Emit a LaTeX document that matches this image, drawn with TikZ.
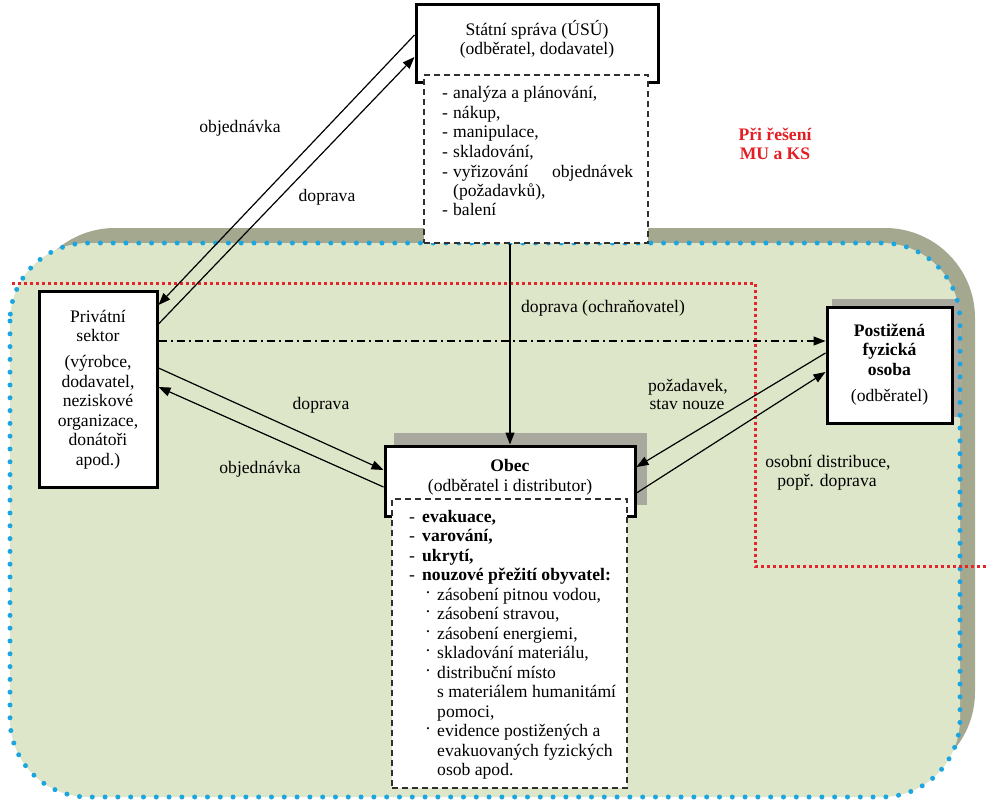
\documentclass[tikz,border=0pt]{standalone}
\usepackage{fontspec}
\setmainfont{Liberation Serif}
\usetikzlibrary{arrows.meta}
\definecolor{bgGrey}{HTML}{A4A88E}
\definecolor{bgGreen}{HTML}{DDE6C8}
\definecolor{shadowGrey}{HTML}{A8A89E}
\definecolor{blueDot}{HTML}{1CA6E0}
\definecolor{redDot}{HTML}{E3262B}
\definecolor{redText}{HTML}{E31E24}
\definecolor{dashGrey}{HTML}{303030}
\newcommand{\dashitem}[2]{\makebox[#1][l]{-}#2}
\newcommand{\dotitem}[1]{\hspace*{16pt}\makebox[12pt][l]{\raisebox{2pt}{·}}#1}
\begin{document}
\begin{tikzpicture}[x=1pt,y=-1pt,
  font=\fontsize{17.6}{19.5}\selectfont,
  solidbox/.style={draw=black, line width=3pt, fill=white, inner sep=0pt},
  dashbox/.style={draw=dashGrey, line width=1.4pt, dash pattern=on 6pt off 4pt, fill=white, inner sep=0pt},
  txt/.style={anchor=base, inner sep=0pt},
  conn/.style={-{Triangle[length=12pt,width=9pt]}, line width=1.2pt, black},
  plain/.style={line width=1.2pt, black}]
\useasboundingbox (0,0) rectangle (988,808);
% background shapes
\fill[bgGrey, rounded corners=90pt] (25,228) rectangle (975,782);
\fill[bgGreen, rounded corners=78pt] (10,243) rectangle (960,797);
\fill[shadowGrey] (394,433) rectangle (647,505);
\fill[shadowGrey] (832,299) rectangle (960,417);
\draw[blueDot, line width=5pt, dash pattern=on 0pt off 12.8pt, line cap=round, rounded corners=78pt] (10,243) rectangle (960,797);
\draw[redDot, line width=3pt, dash pattern=on 3pt off 3pt] (12,283) -- (755,283) -- (755,566) -- (988,566);
% boxes
\node[solidbox, minimum width=242pt, minimum height=78pt] (stat) at (537,44) {};
\node[dashbox, minimum width=224pt, minimum height=168pt] (statlist) at (536,159) {};
\node[solidbox, minimum width=118pt, minimum height=196pt] (priv) at (98,389) {};
\node[solidbox, minimum width=125pt, minimum height=116pt] (post) at (889.5,365) {};
\node[solidbox, minimum width=250pt, minimum height=70pt] (obec) at (510,481) {};
\node[dashbox, minimum width=235pt, minimum height=289pt] (obeclist) at (509.5,643.5) {};
% box texts
\node[txt] (stattitle) at (537,36) {Státní správa (ÚSÚ)};
\node[txt] (statsub) at (537,55) {(odběratel, dodavatel)};
\node[anchor=base west, inner sep=0pt] (statitems) at (442,99) {\parbox[t]{195pt}{%
\dashitem{11pt}{analýza a plánování,}\\
\dashitem{11pt}{nákup,}\\
\dashitem{11pt}{manipulace,}\\
\dashitem{11pt}{skladování,}\\
\dashitem{11pt}{\hbox to 180pt{vyřizování\hfill objednávek}}\\
\hspace*{11pt}(požadavků),\\
\dashitem{11pt}{balení}}};
\node[anchor=base, inner sep=0pt] (privtext) at (98,322) {\parbox[t]{112pt}{\centering
Privátní\\sektor\\[6.5pt](výrobce,\\dodavatel,\\neziskové\\organizace,\\donátoři\\apod.)}};
\node[anchor=base, inner sep=0pt] (posttext) at (889.5,336) {\parbox[t]{120pt}{\centering
\textbf{Postižená}\\\textbf{fyzická}\\\textbf{osoba}\\[6.5pt](odběratel)}};
\node[txt] (obectitle) at (510,471.5) {\textbf{Obec}};
\node[txt] (obecsub) at (510,491) {(odběratel i distributor)};
\node[anchor=base west, inner sep=0pt] (obecitems) at (409,522) {\parbox[t]{215pt}{%
\dashitem{13pt}{\textbf{evakuace,}}\\
\dashitem{13pt}{\textbf{varování,}}\\
\dashitem{13pt}{\textbf{ukrytí,}}\\
\dashitem{13pt}{\textbf{nouzové přežití obyvatel:}}\\
\dotitem{zásobení pitnou vodou,}\\
\dotitem{zásobení stravou,}\\
\dotitem{zásobení energiemi,}\\
\dotitem{skladování materiálu,}\\
\dotitem{distribuční místo}\\
\hspace*{28pt}s materiálem humanitámí\\
\hspace*{28pt}pomoci,\\
\dotitem{evidence postižených a}\\
\hspace*{28pt}evakuovaných fyzických\\
\hspace*{28pt}osob apod.}};
% connectors
\draw[conn] ([yshift=9pt]stat.west) -- ([yshift=84pt]priv.east);
\draw[conn] ([yshift=65pt]priv.east) -- ([yshift=-13pt]stat.west);
\draw[conn] ([yshift=21pt]priv.east) -- ([yshift=11pt]obec.west);
\draw[conn] ([yshift=-6pt]obec.west) -- ([yshift=2pt]priv.east);
\draw[conn] (obec.north |- statlist.south) -- (obec.north);
\draw[conn, dash pattern=on 8pt off 4pt on 2pt off 4pt] ([yshift=48pt]priv.east) -- ([yshift=24pt]post.west);
\draw[conn] ([yshift=12pt]post.west) -- ([yshift=14pt]obec.east);
\draw[conn] ([yshift=-12pt]obec.east) -- ([yshift=-7pt]post.west);
% labels
\node[txt] (lobj1) at (240,132) {objednávka};
\node[txt] (ldop1) at (327,201) {doprava};
\node[txt] (ldopoch) at (603,312) {doprava (ochraňovatel)};
\node[txt] (ldop2) at (321,409) {doprava};
\node[txt] (lobj2) at (260,473) {objednávka};
\node[txt] (lpoz) at (688,391) {požadavek,};
\node[txt] (lstav) at (687,409) {stav nouze};
\node[txt] (losob) at (828,467) {osobní distribuce,};
\node[txt] (lpopr) at (827,486) {popř. doprava};
\node[txt, text=redText, font=\fontsize{17.6}{19.5}\selectfont\bfseries] (lpri) at (775,140) {Při řešení};
\node[txt, text=redText, font=\fontsize{17.6}{19.5}\selectfont\bfseries] (lmu) at (775,159) {MU a KS};
\end{tikzpicture}
\end{document}
